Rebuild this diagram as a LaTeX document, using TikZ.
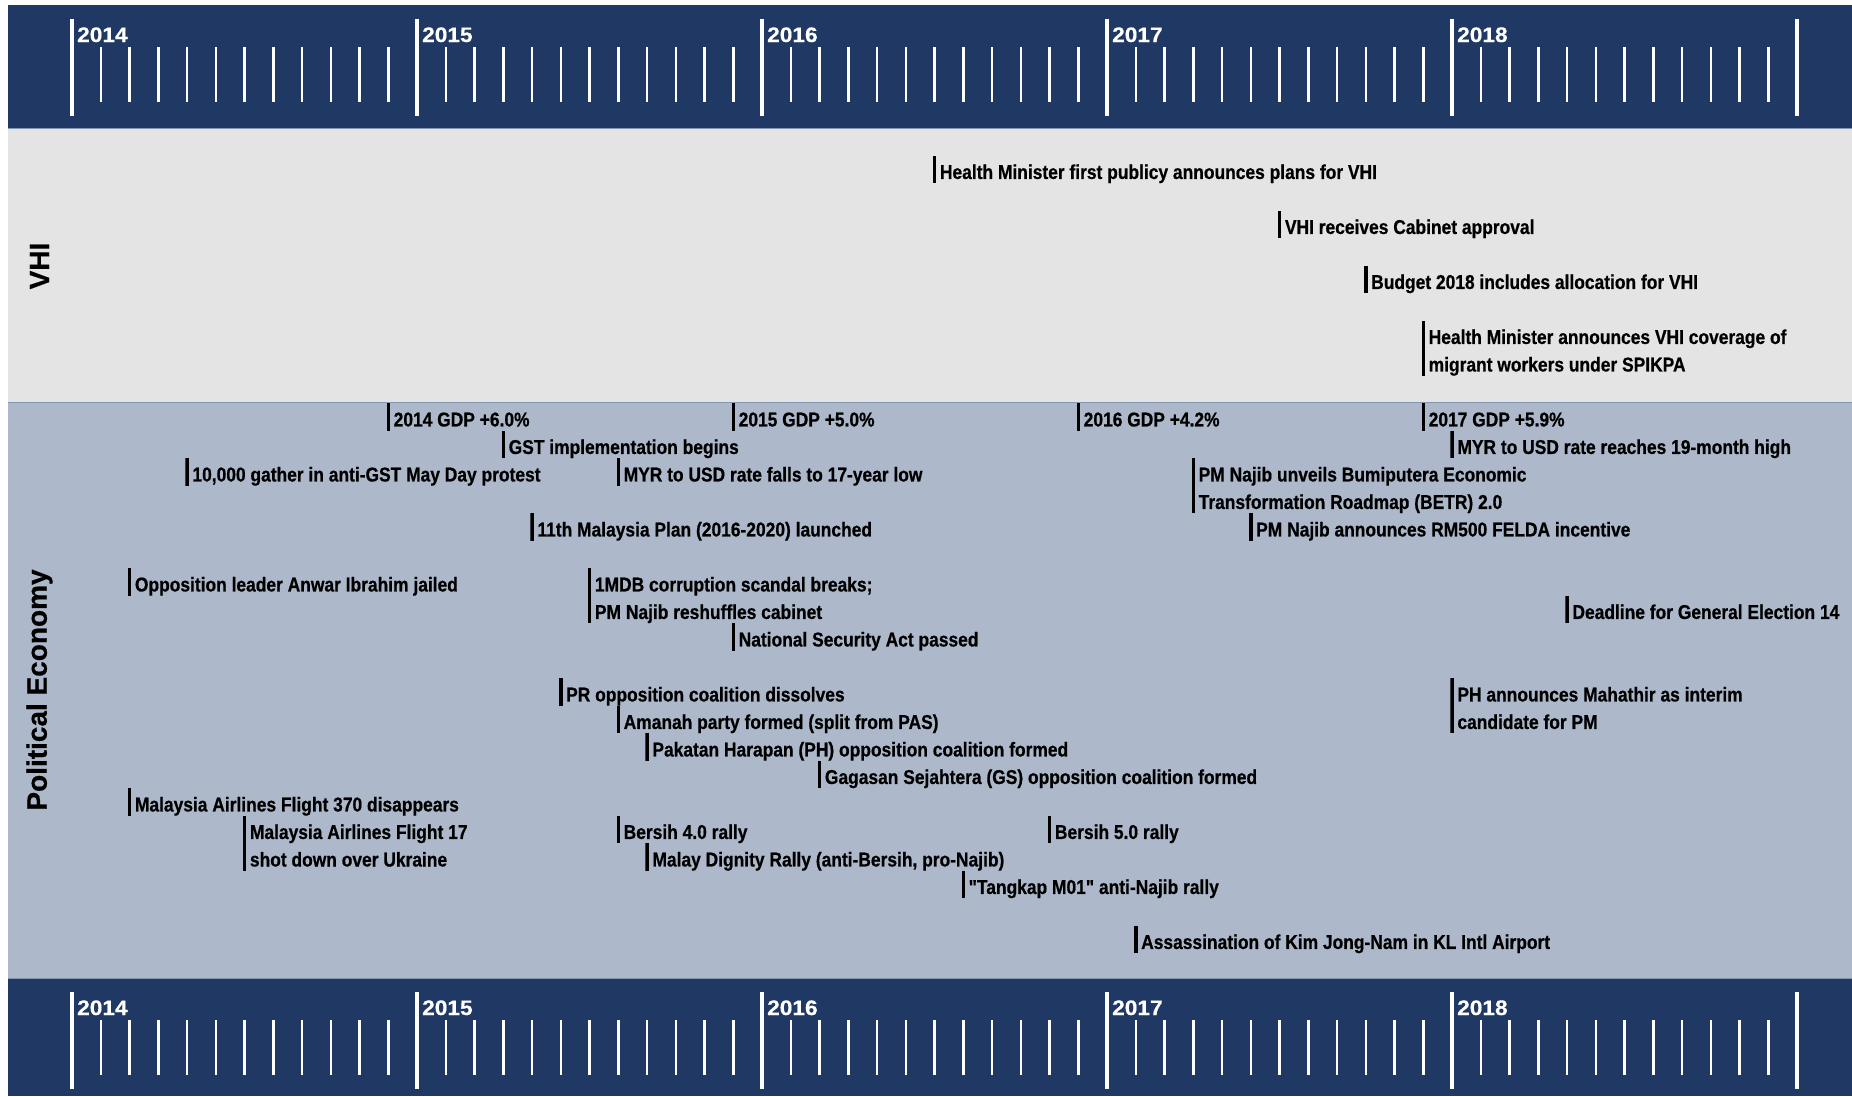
\documentclass[tikz,border=0pt]{standalone}
\usepackage{fontspec}
\newfontfamily\evfont{Liberation Sans}[FakeStretch=0.87,FakeBold=0.6]
\newfontfamily\hdfont{Liberation Sans}[FakeBold=0.5]
\newfontfamily\yrfont{Liberation Sans}[FakeStretch=1.08,FakeBold=0.5]
\definecolor{navyband}{HTML}{203864}
\definecolor{vhiband}{HTML}{E4E4E4}
\definecolor{peband}{HTML}{ADB9CA}
\definecolor{sepline}{HTML}{8497B0}
\newcommand\evl[1]{\hbox{\hskip7pt\rule[-4.2pt]{0pt}{27.5pt}#1}}
\newcommand\ev[4]{\node[evbox] (#1) at ({70.25+28.75*#2},{402.95+27.5*(#3)}) {\vtop{\offinterlineskip#4}};}
\tikzset{
  evbox/.style={anchor=north west, inner sep=0pt, text=black,
    font=\evfont\bfseries\fontsize{20}{27.5}\selectfont,
    path picture={\fill[black] (path picture bounding box.north west) rectangle ([xshift=3.5pt]path picture bounding box.south west);}},
  majortick/.style={white, line width=3.5pt},
  minortick/.style={white, line width=2.5pt},
  yearlabel/.style={anchor=base west, inner sep=0pt, text=white, font=\yrfont\bfseries\fontsize{21}{21}\selectfont},
  bandlabel/.style={rotate=90, inner sep=0pt, text=black, font=\hdfont\bfseries\fontsize{28}{28}\selectfont},
  sep/.style={sepline, line width=1pt}
}
\begin{document}
\begin{tikzpicture}[x=1pt,y=-1pt]
\useasboundingbox (0,0) rectangle (1852,1096);
\fill[white] (0,0) rectangle (1852,1096);
% bands
\fill[navyband] (8,5) rectangle (1852,128);
\fill[vhiband] (8,128) rectangle (1852,402);
\fill[peband] (8,402) rectangle (1852,978);
\fill[navyband] (8,978) rectangle (1852,1096);
\draw[sep] (8,128) -- (1852,128);
\draw[sep] (8,402) -- (1852,402);
\draw[sep] (8,978) -- (1852,978);
% time axes
\foreach \bt/\nm in {5/t,978/b}{
  \foreach \k in {0,...,5}
    \draw[majortick] ({72+345*\k},{\bt+14}) -- ({72+345*\k},{\bt+111});
  \foreach \k in {0,...,4}
    \foreach \j in {1,...,11}
      \draw[minortick] ({72+345*\k+28.75*\j},{\bt+42}) -- ({72+345*\k+28.75*\j},{\bt+97});
  \foreach \k/\yr in {0/2014,1/2015,2/2016,3/2017,4/2018}
    \node[yearlabel] (yr\yr\nm) at ({77+345*\k},{\bt+37}) {\yr};
}
% band labels
\node[bandlabel] (vhilabel) at (39.5,266) {VHI};
\node[bandlabel] (pelabel) at (39.5,690) {Political Economy};
% VHI events
\ev{v1}{30}{-9}{\evl{Health Minister first publicy announces plans for VHI}}
\ev{v2}{42}{-7}{\evl{VHI receives Cabinet approval}}
\ev{v3}{45}{-5}{\evl{Budget 2018 includes allocation for VHI}}
\ev{v4}{47}{-3}{\evl{Health Minister announces VHI coverage of}\evl{migrant workers under SPIKPA}}
% Political economy events
\ev{p1}{11}{0}{\evl{2014 GDP +6.0\%}}
\ev{p2}{23}{0}{\evl{2015 GDP +5.0\%}}
\ev{p3}{35}{0}{\evl{2016 GDP +4.2\%}}
\ev{p4}{47}{0}{\evl{2017 GDP +5.9\%}}
\ev{p5}{15}{1}{\evl{GST implementation begins}}
\ev{p6}{48}{1}{\evl{MYR to USD rate reaches 19-month high}}
\ev{p7}{4}{2}{\evl{10,000 gather in anti-GST May Day protest}}
\ev{p8}{19}{2}{\evl{MYR to USD rate falls to 17-year low}}
\ev{p9}{39}{2}{\evl{PM Najib unveils Bumiputera Economic}\evl{Transformation Roadmap (BETR) 2.0}}
\ev{p10}{16}{4}{\evl{11th Malaysia Plan (2016-2020) launched}}
\ev{p11}{41}{4}{\evl{PM Najib announces RM500 FELDA incentive}}
\ev{p12}{2}{6}{\evl{Opposition leader Anwar Ibrahim jailed}}
\ev{p13}{18}{6}{\evl{1MDB corruption scandal breaks;}\evl{PM Najib reshuffles cabinet}}
\ev{p14}{52}{7}{\evl{Deadline for General Election 14}}
\ev{p15}{23}{8}{\evl{National Security Act passed}}
\ev{p16}{17}{10}{\evl{PR opposition coalition dissolves}}
\ev{p17}{48}{10}{\evl{PH announces Mahathir as interim}\evl{candidate for PM}}
\ev{p18}{19}{11}{\evl{Amanah party formed (split from PAS)}}
\ev{p19}{20}{12}{\evl{Pakatan Harapan (PH) opposition coalition formed}}
\ev{p20}{26}{13}{\evl{Gagasan Sejahtera (GS) opposition coalition formed}}
\ev{p21}{2}{14}{\evl{Malaysia Airlines Flight 370 disappears}}
\ev{p22}{6}{15}{\evl{Malaysia Airlines Flight 17}\evl{shot down over Ukraine}}
\ev{p23}{19}{15}{\evl{Bersih 4.0 rally}}
\ev{p24}{34}{15}{\evl{Bersih 5.0 rally}}
\ev{p25}{20}{16}{\evl{Malay Dignity Rally (anti-Bersih, pro-Najib)}}
\ev{p26}{31}{17}{\evl{"Tangkap M01" anti-Najib rally}}
\ev{p27}{37}{19}{\evl{Assassination of Kim Jong-Nam in KL Intl Airport}}
\end{tikzpicture}
\end{document}
